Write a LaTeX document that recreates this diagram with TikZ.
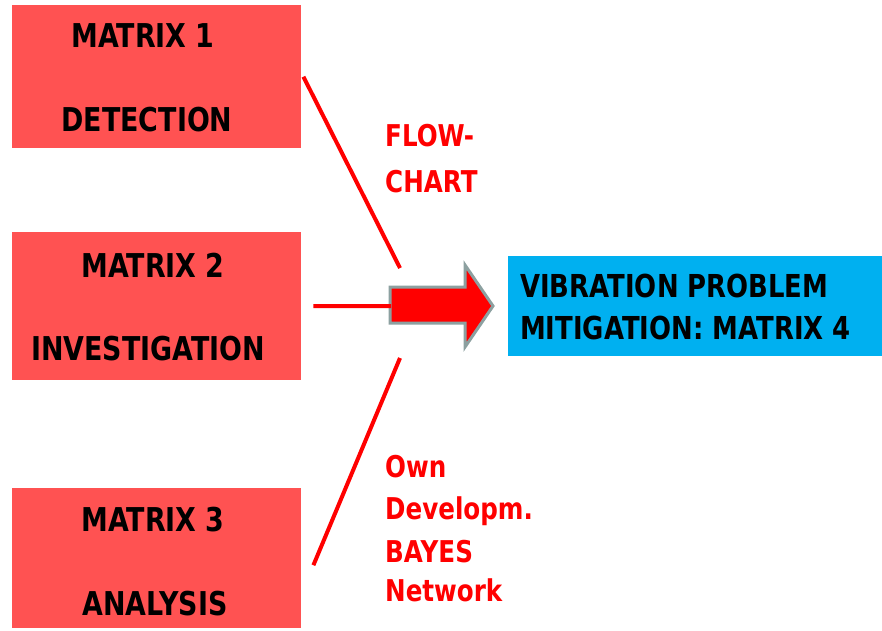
\documentclass[tikz,border=0pt]{standalone}
\usepackage{fontspec}
\newfontfamily\vfont{DejaVu Sans}[FakeStretch=0.82]
\definecolor{boxred}{RGB}{255,82,82}
\definecolor{boxblue}{RGB}{0,176,240}
\definecolor{arrgray}{RGB}{140,160,160}
\definecolor{txtred}{RGB}{255,0,0}
\begin{document}
\begin{tikzpicture}[x=1pt,y=-1pt,
  mbox/.style={fill=boxred,draw=none,minimum width=289pt,minimum height=#1,inner sep=0pt,anchor=north west},
  btxt/.style={font=\vfont\bfseries\fontsize{32.8}{38}\selectfont,anchor=base,inner sep=0pt,text=black},
  vtxt/.style={font=\vfont\bfseries\fontsize{31.6}{38}\selectfont,anchor=base west,inner sep=0pt,text=black},
  rtxt/.style={font=\vfont\bfseries\fontsize{30}{36}\selectfont,anchor=base west,inner sep=0pt,text=txtred},
  conn/.style={draw=txtred,line width=4pt},
  bigarrow/.style={fill=txtred,draw=arrgray,line width=3pt,line join=miter}]
\useasboundingbox (0,0) rectangle (882,630);
% boxes
\node[mbox=143pt] (b1) at (12,5) {};
\node[mbox=148pt] (b2) at (12,232) {};
\node[mbox=140pt] (b3) at (12,488) {};
\node[fill=boxblue,minimum width=374pt,minimum height=100pt,inner sep=0pt,anchor=north west] (b4) at (508,256) {};
% box texts
\node[btxt] (t1a) at (143,47) {MATRIX 1};
\node[btxt] (t1b) at (147,131) {DETECTION};
\node[btxt] (t2a) at (153,277) {MATRIX 2};
\node[btxt] (t2b) at (148,360) {INVESTIGATION};
\node[btxt] (t3a) at (153,531) {MATRIX 3};
\node[btxt] (t3b) at (155,615) {ANALYSIS};
\node[vtxt] (t4a) at (520,297) {VIBRATION PROBLEM};
\node[vtxt] (t4b) at (520,339) {MITIGATION: MATRIX 4};
% red labels
\node[rtxt] (f1) at (385,146) {FLOW-};
\node[rtxt] (f2) at (385,192) {CHART};
\node[rtxt] (o1) at (385,477) {Own};
\node[rtxt] (o2) at (385,519) {Developm.};
\node[rtxt] (o3) at (385,562) {BAYES};
\node[rtxt] (o4) at (385,601) {Network};
% connector ends
\coordinate (c1) at (400,268);
\coordinate (c3) at (400,358);
\coordinate (atail) at (391,306);
% big arrow
\draw[bigarrow] (390,287) -- (465,287) -- (465,265) -- (493,306) -- (465,347) -- (465,323) -- (390,323) -- cycle;
% connectors
\draw[conn] ([xshift=2pt]b1.east) -- (c1);
\draw[conn] ([xshift=12pt]b2.east) -- (atail);
\draw[conn] ([xshift=12pt,yshift=-7pt]b3.east) -- (c3);
\end{tikzpicture}
\end{document}
